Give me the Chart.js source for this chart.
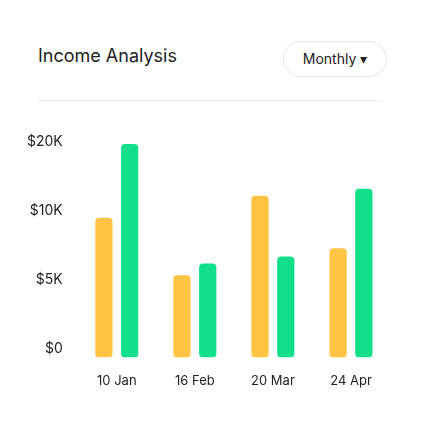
<!DOCTYPE html><html><head><script src="https://cdn.jsdelivr.net/npm/chart.js"></script>
<style>body{margin:0;background:#fff;font-family:Inter,"Noto Sans",sans-serif;width:421px;height:437px;position:relative;overflow:hidden}
#t{position:absolute;left:38px;top:45px;font-size:18px;color:#222}
#d{position:absolute;left:283px;top:41px;width:104px;height:36px;border:1px solid #e6e6e6;border-radius:18px;box-sizing:border-box;font-size:14px;color:#222;line-height:34px;text-align:center}
#hr{position:absolute;left:38px;top:100px;width:345px;border-top:1px solid #eee}
#c{position:absolute;left:20px;top:123px}</style></head><body>
<div id="t">Income Analysis</div><div id="d">Monthly &#9662;</div><div id="hr"></div>
<canvas id="c" width="370" height="274" style="width:370px;height:274px"></canvas>
<script>
const categories=["10 Jan","16 Feb","20 Mar","24 Apr"];
const tickLabels=["$0","$5K","$10K","$20K"];
const income=[1.9,1.07,2.22,1.46];
const expense=[2.97,1.24,1.34,2.32];
new Chart(document.getElementById('c'),{type:'bar',data:{labels:categories,datasets:[
{data:income,backgroundColor:'#ffc444',borderRadius:4,borderSkipped:false,base:-0.12},
{data:expense,backgroundColor:'#12df89',borderRadius:4,borderSkipped:false,base:-0.12}]},
options:{responsive:false,animation:false,plugins:{legend:{display:false},tooltip:{enabled:false}},
layout:{padding:{left:0,right:0,top:0,bottom:0}},
datasets:{bar:{categoryPercentage:0.66,barPercentage:0.67}},
scales:{x:{grid:{display:false},border:{display:false},ticks:{color:'#222',font:{size:13,family:'Inter'},padding:8}},
y:{min:-0.12,max:3.05,afterBuildTicks:a=>{a.ticks=[0,1,2,3].map(v=>({value:v}))},grid:{display:false},border:{display:false},
ticks:{color:'#222',font:{size:14,family:'Inter'},padding:7,callback:v=>tickLabels[v]}}}}});
</script></body></html>
